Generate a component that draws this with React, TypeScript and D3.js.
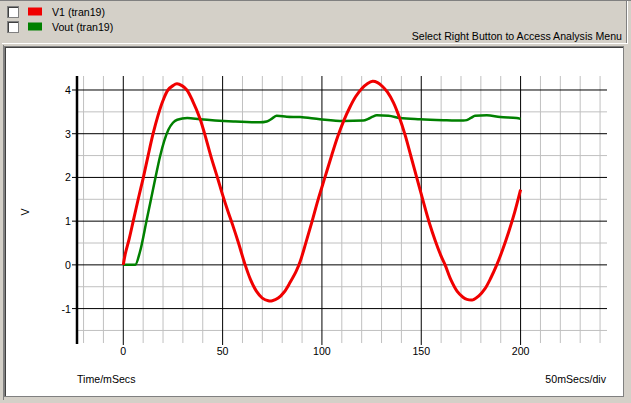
import React from "react";
import * as d3 from "d3";

const seriesNames = ["V1 (tran19)", "Vout (tran19)"];
const seriesColors = ["#f00000", "#008000"];

const v1Time = [0, 1, 3, 5, 7.5, 10, 12.5, 15, 17.5, 20, 22.5, 25, 27, 29.5, 32, 35, 38.5, 41, 44, 47.5, 50, 52.5, 55, 58, 61, 64, 67, 70, 73, 75, 78, 81, 84, 87, 89, 92, 95, 98, 101.5, 105, 108, 111, 114, 117, 120, 123, 125.5, 128, 130.5, 133, 136, 139, 142, 145, 148, 151, 154, 157, 160, 162, 165, 168, 171, 173, 176, 179, 182, 185, 188, 191, 194, 197, 200];
const v1Vals = [0, 0.25, 0.6, 1.0, 1.5, 1.98, 2.5, 3.0, 3.42, 3.76, 4.0, 4.1, 4.14, 4.1, 4.0, 3.74, 3.36, 2.99, 2.5, 1.98, 1.6, 1.25, 0.92, 0.5, 0.05, -0.33, -0.6, -0.76, -0.82, -0.82, -0.76, -0.62, -0.4, -0.15, 0.07, 0.52, 0.99, 1.48, 2.0, 2.52, 2.94, 3.3, 3.6, 3.85, 4.03, 4.15, 4.2, 4.17, 4.08, 3.95, 3.71, 3.37, 2.95, 2.45, 1.95, 1.45, 0.97, 0.56, 0.2, 0, -0.35, -0.6, -0.74, -0.79, -0.8, -0.71, -0.55, -0.3, 0, 0.35, 0.75, 1.2, 1.72];

const voutTime = [0, 6, 8.4, 11.8, 16, 18.5, 22.7, 25, 27.2, 32.2, 38.6, 55.4, 68.8, 72.2, 75, 77.2, 82.3, 89, 99, 110.8, 120.8, 123.3, 125.5, 127.6, 133.5, 139.3, 149.4, 161.1, 171.2, 172.9, 175, 177.1, 183, 189.7, 198, 200];
const voutVals = [0, 0, 0.3, 1.03, 1.95, 2.48, 3.09, 3.25, 3.32, 3.36, 3.33, 3.28, 3.26, 3.28, 3.35, 3.41, 3.39, 3.38, 3.33, 3.29, 3.3, 3.34, 3.39, 3.42, 3.41, 3.36, 3.33, 3.31, 3.3, 3.31, 3.36, 3.41, 3.42, 3.38, 3.36, 3.34];

const yMajorTicks = [-1, 0, 1, 2, 3, 4];
const xMajorTicks = [0, 50, 100, 150, 200];

const xLabel = "Time/mSecs";
const xDivLabel = "50mSecs/div";
const yLabel = "V";
const hintText = "Select Right Button to Access Analysis Menu";

const FONT = "'Liberation Sans', Arial, sans-serif";
const FS = 10.6;

export default function App() {
  const W = 631;
  const H = 403;
  const x = d3.scaleLinear().domain([-23.3, 243.5]).range([77, 607]);
  const y = d3.scaleLinear().domain([-1.81, 4.32]).range([344, 76]);

  const xMinor = d3.range(-20, 241, 10).filter((v) => !xMajorTicks.includes(v));
  const yMinor = d3.range(-1.5, 4.01, 0.5).filter((v) => !yMajorTicks.includes(v));

  const redLine = d3
    .line<[number, number]>()
    .x((d) => x(d[0]))
    .y((d) => y(d[1]))
    .curve(d3.curveCatmullRom.alpha(0.5));

  const greenLine = d3
    .line<[number, number]>()
    .x((d) => x(d[0]))
    .y((d) => y(d[1]))
    .curve(d3.curveMonotoneX);

  const v1Data = v1Time.map((t, i) => [t, v1Vals[i]] as [number, number]);
  const voutData = voutTime.map((t, i) => [t, voutVals[i]] as [number, number]);

  const [x0, x1] = x.range();
  const [yb, yt] = y.range();

  return (
    <svg
      width={W}
      height={H}
      style={{ position: "fixed", left: 0, top: 0, display: "block" }}
      fontFamily={FONT}
    >
      {/* window background */}
      <rect x={0} y={0} width={W} height={H} fill="#d4d0c8" />
      <line x1={0} y1={0.5} x2={W} y2={0.5} stroke="#808080" />
      <line x1={626.5} y1={1} x2={626.5} y2={43} stroke="#808080" />
      <line x1={627.5} y1={1} x2={627.5} y2={43} stroke="#ffffff" />
      <line x1={2} y1={43.5} x2={628} y2={43.5} stroke="#ffffff" />
      <line x1={3.5} y1={45} x2={3.5} y2={400} stroke="#808080" />

      {/* legend */}
      {seriesNames.map((name, i) => {
        const cy = 12 + i * 15;
        return (
          <g key={name}>
            <rect x={7.5} y={cy - 5.5} width={11} height={11} fill="#ffffff" stroke="#808080" />
            <line x1={8} y1={cy - 4.5} x2={18} y2={cy - 4.5} stroke="#404040" />
            <line x1={8.5} y1={cy - 4.5} x2={8.5} y2={cy + 5} stroke="#404040" />
            <rect x={28} y={cy - 4.5} width={14} height={8} fill={seriesColors[i]} />
            <text x={52} y={cy + 4} fontSize={FS} fill="#000">
              {name}
            </text>
          </g>
        );
      })}
      <text x={622} y={40} fontSize={FS} textAnchor="end" fill="#000">
        {hintText}
      </text>

      {/* plot panel */}
      <rect x={4.5} y={46.5} width={619} height={350} fill="#ffffff" stroke="#808080" />
      <line x1={5} y1={47.5} x2={623} y2={47.5} stroke="#404040" />
      <line x1={5.5} y1={47.5} x2={5.5} y2={396} stroke="#404040" />

      {/* minor grid */}
      {xMinor.map((v) => (
        <line key={"xm" + v} x1={x(v)} x2={x(v)} y1={yt} y2={yb - 1} stroke="#c0c0c0" strokeWidth={1} />
      ))}
      {yMinor.map((v) => (
        <line key={"ym" + v} x1={x0} x2={x1} y1={y(v)} y2={y(v)} stroke="#c0c0c0" strokeWidth={1} />
      ))}
      {/* major grid */}
      {xMajorTicks.map((v) => (
        <line key={"xM" + v} x1={x(v)} x2={x(v)} y1={yt} y2={yb + 1} stroke="#000" strokeWidth={1} />
      ))}
      {yMajorTicks.map((v) => (
        <line key={"yM" + v} x1={x0 - 5} x2={x1} y1={y(v)} y2={y(v)} stroke="#000" strokeWidth={1} />
      ))}
      {/* y axis line */}
      <line x1={x0} x2={x0} y1={yt} y2={yb} stroke="#000" strokeWidth={2.5} />

      {/* tick labels */}
      {yMajorTicks.map((v) => (
        <text key={"yl" + v} x={71} y={y(v) + 4} fontSize={FS} textAnchor="end" fill="#000">
          {v}
        </text>
      ))}
      {xMajorTicks.map((v) => (
        <text key={"xl" + v} x={x(v)} y={355} fontSize={FS} textAnchor="middle" fill="#000">
          {v}
        </text>
      ))}

      {/* axis labels */}
      <text transform={`translate(29,212) rotate(-90)`} fontSize={FS} textAnchor="middle" fill="#000">
        {yLabel}
      </text>
      <text x={77} y={383} fontSize={FS} fill="#000">
        {xLabel}
      </text>
      <text x={606} y={383} fontSize={FS} textAnchor="end" fill="#000">
        {xDivLabel}
      </text>

      {/* series */}
      <path d={greenLine(voutData) || ""} fill="none" stroke={seriesColors[1]} strokeWidth={2.5} strokeLinejoin="round" />
      <path d={redLine(v1Data) || ""} fill="none" stroke={seriesColors[0]} strokeWidth={3} strokeLinejoin="round" />
    </svg>
  );
}
